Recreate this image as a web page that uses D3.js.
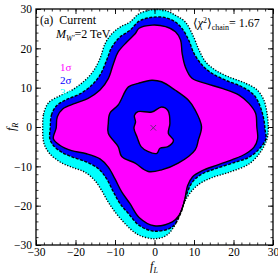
<!DOCTYPE html>
<meta charset="utf-8">
<script src="https://d3js.org/d3.v7.min.js"></script>
<style>
  body { margin: 0; background: #fff; }
  text { font-family: "Liberation Serif", "DejaVu Serif", serif; }
</style>
<div id="my_dataviz"></div>
<script>

// contour outlines, as [fL, fR] pairs
var sigma3 = [[-28.3,-0.3],[-28.1,3.2],[-26.8,6.2],[-24.0,7.9],[-21.2,9.2],[-18.0,11.5],[-15.5,14.2],[-13.8,17.4],[-12.5,21.2],[-10.8,23.7],[-8.7,25.4],[-6.2,26.7],[-3.9,28.8],[-0.6,29.8],[2.8,29.6],[5.3,28.4],[7.8,26.7],[9.9,22.9],[11.3,19.5],[13.0,16.5],[15.5,14.4],[18.9,12.7],[23.1,11.1],[26.0,9.4],[27.7,6.8],[28.5,3.4],[28.8,0.0],[28.5,-3.0],[26.8,-6.4],[23.9,-9.4],[18.9,-11.5],[14.2,-13.0],[10.8,-14.9],[8.3,-17.8],[6.6,-21.6],[4.9,-25.4],[2.8,-27.7],[-0.1,-28.4],[-3.9,-27.5],[-5.8,-26.2],[-7.9,-24.1],[-10.0,-21.6],[-11.7,-19.1],[-13.4,-16.1],[-15.1,-13.6],[-17.6,-11.5],[-21.0,-10.2],[-23.9,-8.9],[-26.5,-6.8],[-27.8,-4.7],[-28.2,-3.0]];

var sigma2 = [[-26.4,-0.3],[-26.1,3.0],[-24.8,5.4],[-22.2,7.0],[-18.9,8.4],[-15.9,10.6],[-13.8,13.2],[-12.1,17.0],[-10.8,20.3],[-8.7,22.9],[-6.2,24.6],[-3.9,26.9],[-0.6,27.9],[2.8,27.8],[5.3,26.7],[7.0,25.0],[8.7,22.0],[10.0,18.7],[12.1,15.7],[14.6,13.6],[18.0,11.9],[22.2,10.2],[25.2,8.1],[26.8,5.1],[27.7,1.8],[28.0,-0.8],[28.2,-3.0],[26.5,-5.6],[23.9,-7.7],[20.6,-8.9],[15.5,-10.6],[12.1,-11.9],[9.6,-14.0],[7.9,-17.8],[6.6,-22.0],[4.5,-25.4],[-0.1,-26.5],[-3.9,-25.0],[-6.6,-22.0],[-8.7,-19.5],[-10.4,-16.5],[-12.1,-13.2],[-14.2,-10.6],[-17.2,-8.9],[-20.6,-7.7],[-23.5,-6.4],[-25.6,-4.7],[-26.5,-3.0]];

var sigma1 = [[-24.9,-0.3],[-24.6,2.6],[-23.1,4.7],[-20.1,6.0],[-16.8,7.3],[-13.8,9.4],[-11.7,12.3],[-10.4,16.1],[-9.2,19.1],[-7.0,21.6],[-4.9,23.7],[-3.9,25.1],[-0.6,25.9],[2.8,25.5],[5.3,24.2],[6.6,22.1],[7.0,18.7],[7.8,15.3],[9.5,12.4],[12.9,11.1],[17.1,9.8],[21.4,8.1],[23.9,6.0],[25.6,3.5],[25.9,0.1],[26.1,-3.0],[25.2,-5.1],[23.1,-6.8],[19.7,-8.3],[15.5,-9.8],[12.1,-11.1],[9.6,-12.7],[8.4,-14.9],[7.5,-19.1],[6.2,-22.5],[4.5,-24.1],[-0.1,-25.1],[-3.9,-23.0],[-6.2,-19.5],[-8.3,-16.5],[-10.0,-13.2],[-11.7,-10.2],[-13.8,-8.1],[-17.2,-6.8],[-21.0,-6.0],[-23.9,-4.7],[-25.6,-3.0]];

// inner blob (blue) and the hole inside it (magenta)
var blob = [[-11.7,0.9],[-11.3,3.5],[-9.2,5.6],[-6.6,10.2],[-4.1,11.1],[-0.7,11.9],[1.8,11.5],[5.2,9.4],[8.6,6.8],[10.3,4.3],[11.9,0.1],[11.1,-3.3],[10.3,-5.8],[6.0,-9.2],[1.8,-10.9],[-1.6,-11.3],[-4.9,-9.2],[-8.3,-7.5],[-9.2,-5.0],[-11.7,-1.6]];

var hole = [[-5.1,2.9],[-4.2,3.9],[-0.7,3.8],[1.8,5.1],[3.4,4.2],[3.9,0.9],[3.5,-1.6],[4.8,-3.4],[3.4,-5.0],[1.4,-5.4],[0.6,-6.7],[-1.7,-6.2],[-3.4,-5.0],[-4.4,-2.6],[-5.2,-0.3],[-4.8,1.3]];

var bestFit = [-0.3, -0.2];

var majorTicks = [-30, -20, -10, 0, 10, 20, 30];
var minorTicks = d3.range(-30, 31, 2);

var sigmaLabels = ["1", "2", "3"];
var sigmaColors = ["#ff00ff", "#0000ff", "#00ffff"];

var width = 278, height = 278;

var svg = d3.select("#my_dataviz")
  .append("svg")
    .attr("width", width)
    .attr("height", height);

var x = d3.scaleLinear().domain([-30, 30]).range([36, 273]);
var y = d3.scaleLinear().domain([-30, 30]).range([245, 9]);

var line = d3.line()
  .x(function(d) { return x(d[0]); })
  .y(function(d) { return y(d[1]); })
  .curve(d3.curveCatmullRomClosed.alpha(0.5));

// filled regions, outside in
var layers = [
  {data: sigma3, fill: "#00ffff", dash: "1.2,1.6"},
  {data: sigma2, fill: "#0000ff", dash: "3,1.5"},
  {data: sigma1, fill: "#ff00ff", dash: null},
  {data: blob,   fill: "#0000ff", dash: null},
  {data: hole,   fill: "#ff00ff", dash: null}
];

svg.append("g").selectAll("path")
  .data(layers)
  .enter().append("path")
    .attr("d", function(d) { return line(d.data); })
    .attr("fill", function(d) { return d.fill; })
    .attr("stroke", "none");

svg.append("g").selectAll("path")
  .data(layers)
  .enter().append("path")
    .attr("d", function(d) { return line(d.data); })
    .attr("fill", "none")
    .attr("stroke", "black")
    .attr("stroke-width", 1.4)
    .attr("stroke-dasharray", function(d) { return d.dash; });

// sigma labels (3 sits partly under the cyan band, same colour)
svg.append("g").selectAll("text")
  .data(sigmaLabels)
  .enter().append("text")
    .attr("x", 60)
    .attr("y", function(d, i) { return 71 + i * 12.5; })
    .attr("fill", function(d, i) { return sigmaColors[i]; })
    .style("font-size", "11px")
    .text(function(d) { return d + "\u03c3"; });

// best fit cross
svg.append("path")
  .attr("d", d3.symbol(d3.symbolX, 22)())
  .attr("transform", "translate(" + x(bestFit[0]) + "," + y(bestFit[1]) + ")")
  .attr("fill", "none")
  .attr("stroke", "#5a2a6a")
  .attr("stroke-width", 0.9);

// axes: ticks point inward on all four sides
var fmt = function(d) { return d < 0 ? "\u2212" + Math.abs(d) : d; };

function frameAxis(axis, transform, labels, size) {
  var g = svg.append("g").attr("transform", transform);
  g.call(axis);
  g.selectAll("text").style("font-family", "Liberation Serif").style("font-size", "11.5px").attr("fill", "black");
  g.select(".domain").remove();
  if (!labels) g.selectAll("text").remove();
  g.selectAll("line").attr("stroke", "black").attr("stroke-width", size);
  return g;
}

// major
frameAxis(d3.axisBottom(x).tickValues(majorTicks).tickSize(-5).tickPadding(3).tickFormat(fmt), "translate(0,245)", true, 0.9);
frameAxis(d3.axisLeft(y).tickValues(majorTicks).tickSize(-5).tickPadding(4).tickFormat(fmt), "translate(36,0)", true, 0.9);
frameAxis(d3.axisTop(x).tickValues(majorTicks).tickSize(-5), "translate(0,9)", false, 0.9);
frameAxis(d3.axisRight(y).tickValues(majorTicks).tickSize(-5), "translate(273,0)", false, 0.9);
// minor
frameAxis(d3.axisBottom(x).tickValues(minorTicks).tickSize(-2.5).tickFormat(""), "translate(0,245)", false, 0.8);
frameAxis(d3.axisLeft(y).tickValues(minorTicks).tickSize(-2.5).tickFormat(""), "translate(36,0)", false, 0.8);
frameAxis(d3.axisTop(x).tickValues(minorTicks).tickSize(-2.5).tickFormat(""), "translate(0,9)", false, 0.8);
frameAxis(d3.axisRight(y).tickValues(minorTicks).tickSize(-2.5).tickFormat(""), "translate(273,0)", false, 0.8);

svg.append("rect")
  .attr("x", 36).attr("y", 9)
  .attr("width", 237).attr("height", 236)
  .attr("fill", "none")
  .attr("stroke", "black")
  .attr("stroke-width", 1.3);

// axis titles
var xl = svg.append("text")
  .attr("x", 154).attr("y", 270)
  .attr("text-anchor", "middle")
  .style("font-size", "12px")
  .style("font-style", "italic");
xl.append("tspan").text("f");
xl.append("tspan").attr("dy", 2.5).style("font-size", "8px").text("L");

var yl = svg.append("text")
  .attr("transform", "translate(15,127) rotate(-90)")
  .attr("text-anchor", "middle")
  .style("font-size", "12px")
  .style("font-style", "italic");
yl.append("tspan").text("f");
yl.append("tspan").attr("dy", 2.5).style("font-size", "8px").text("R");

// annotations
svg.append("text")
  .attr("x", 40).attr("y", 24)
  .style("font-size", "12px")
  .attr("xml:space", "preserve")
  .text("(a)  Current");

var mw = svg.append("text")
  .attr("x", 56).attr("y", 38)
  .style("font-size", "12px");
mw.append("tspan").style("font-style", "italic").text("M");
mw.append("tspan").attr("dy", 2.5).style("font-size", "8px").style("font-style", "italic").text("W\u2032");
mw.append("tspan").attr("dy", -2.5).text("=2 TeV");

var chi = svg.append("text")
  .attr("x", 193).attr("y", 27)
  .style("font-size", "12px");
chi.append("tspan").text("\u27e8");
chi.append("tspan").style("font-style", "italic").text("\u03c7");
chi.append("tspan").attr("dy", -4.5).style("font-size", "8px").text("2");
chi.append("tspan").attr("dy", 4.5).text("\u27e9");
chi.append("tspan").attr("dy", 2.5).style("font-size", "8px").text("chain");
chi.append("tspan").attr("dy", -2.5).text("= 1.67");

</script>
